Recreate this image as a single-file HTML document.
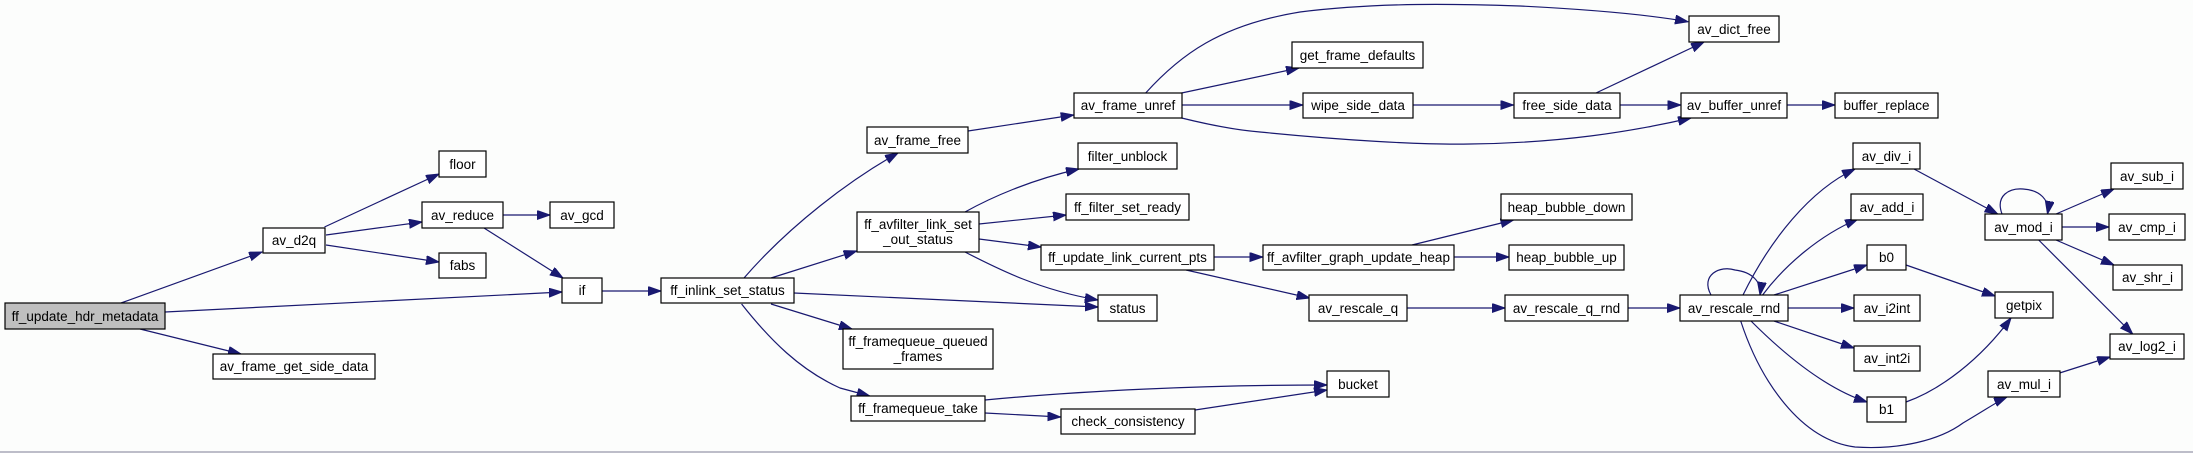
<!DOCTYPE html>
<html><head><meta charset="utf-8"><style>
html,body{margin:0;padding:0;background:#fcfdfc;}
svg{display:block;}
text{font-family:"Liberation Sans",sans-serif;font-size:13.5px;fill:#000;text-anchor:middle;}
rect{stroke:#000;stroke-width:1.2;fill:#fff;}
path{fill:none;stroke:#191970;stroke-width:1.2;}
</style></head><body>
<svg width="2193" height="453" viewBox="0 0 2193 453" xmlns="http://www.w3.org/2000/svg">
<defs>
<marker id="a" markerUnits="userSpaceOnUse" markerWidth="14" markerHeight="10" refX="13" refY="4.5" orient="auto">
<path d="M0,0 L13,4.5 L0,9 Z" style="fill:#191970;stroke:#191970;stroke-width:1"/>
</marker>
</defs>
<rect x="0" y="0" width="2193" height="453" style="fill:#fcfdfc;stroke:none"/>
<line x1="0" y1="452" x2="2193" y2="452" stroke="#a8a8b8" stroke-width="1.5"/>

<g marker-end="url(#a)">
<path d="M121,303 L262,252"/>
<path d="M165,312 L562,292"/>
<path d="M140,329 L241,354"/>
<path d="M324.5,227 L439,174"/>
<path d="M326,235 L422,222"/>
<path d="M326,245 L439,262"/>
<path d="M503,215 L550,215"/>
<path d="M484,228 L563,278"/>
<path d="M601.5,291 L661,291"/>
<path d="M744,278 C790,225 850,180 898,153"/>
<path d="M771,278 L856.6,251"/>
<path d="M794,293 L1098,307"/>
<path d="M771,304 L852,329"/>
<path d="M741.6,304 C770,340 800,370 840,388 L869.7,396"/>
<path d="M968,131 L1073.6,115"/>
<path d="M1145.7,93 C1180,55 1220,25 1300,12 C1380,2 1460,4 1520,6 C1600,10 1650,15 1688,21.7"/>
<path d="M1181.6,93 L1299,68"/>
<path d="M1181.6,105 L1302.6,105"/>
<path d="M1181.6,118 C1210,125 1235,130 1260,132 C1340,140 1420,145 1470,144 C1560,143 1630,132 1691,118"/>
<path d="M1413,105 L1513.5,105"/>
<path d="M965,212 C990,198 1030,180 1079,169"/>
<path d="M979,224 L1066,215"/>
<path d="M979,239 L1041,247"/>
<path d="M965,252 C1000,270 1040,290 1097.8,300"/>
<path d="M1214,257 L1262.6,257"/>
<path d="M1186,270 L1309.6,298"/>
<path d="M1412,245 L1513.5,220"/>
<path d="M1453.5,257 L1509,257"/>
<path d="M1406.5,308 L1505,308"/>
<path d="M985,400 C1080,391 1200,385 1327,385"/>
<path d="M985,413 L1060.5,417"/>
<path d="M1195,410 L1327,390"/>
<path d="M1596,93 L1704,42"/>
<path d="M1619.7,105 L1680.7,105"/>
<path d="M1787,105 L1835,105"/>
<path d="M1627.6,308 L1680,308"/>
<path d="M1711,295 C1700,275 1720,265 1735,270 C1752,272 1762,282 1760,295"/>
<path d="M1743,295 C1770,240 1810,190 1855,169"/>
<path d="M1762.6,295 C1785,265 1820,235 1858,219"/>
<path d="M1774,295 L1867,265"/>
<path d="M1787.7,308 L1854,308"/>
<path d="M1774,321 L1854,348"/>
<path d="M1751,321 C1790,360 1830,390 1867,402"/>
<path d="M1740.7,321 C1760,380 1800,440 1855,447 C1900,450 1940,440 1963,423 C1985,410 2000,400 2007,397"/>
<path d="M1914,169 L1997.7,214"/>
<path d="M2002,214 C1995,195 2010,188 2023,189 C2040,190 2050,200 2047.5,214"/>
<path d="M2056,214 L2114,189"/>
<path d="M2061.5,227 L2109,227"/>
<path d="M2056,240 L2114,265"/>
<path d="M2038.7,240 L2132.7,334"/>
<path d="M1906,265 L1995,296"/>
<path d="M1906,402 C1940,390 1980,360 2011,318"/>
<path d="M2059.6,373 L2110,357"/>
</g>

<rect x="5" y="303" width="160" height="26" style="fill:#bfbfbf"/><text x="85" y="321">ff_update_hdr_metadata</text>
<rect x="263" y="228" width="62" height="25"/><text x="294" y="245">av_d2q</text>
<rect x="439" y="151" width="47" height="26"/><text x="462.5" y="169">floor</text>
<rect x="422" y="202" width="81" height="26"/><text x="462.5" y="220">av_reduce</text>
<rect x="550" y="202" width="64" height="26"/><text x="582" y="220">av_gcd</text>
<rect x="439" y="253" width="47" height="25"/><text x="462.5" y="270">fabs</text>
<rect x="562" y="278" width="40" height="25"/><text x="582" y="295">if</text>
<rect x="661" y="278" width="133" height="25"/><text x="727.5" y="295">ff_inlink_set_status</text>
<rect x="213" y="354" width="162" height="25"/><text x="294" y="371">av_frame_get_side_data</text>
<rect x="867" y="127" width="101" height="26"/><text x="917.5" y="145">av_frame_free</text>
<rect x="1074" y="93" width="108" height="25"/><text x="1128" y="110">av_frame_unref</text>
<rect x="1292" y="42" width="131" height="26"/><text x="1357.5" y="60">get_frame_defaults</text>
<rect x="1303" y="93" width="110" height="25"/><text x="1358" y="110">wipe_side_data</text>
<rect x="1078" y="143" width="99" height="26"/><text x="1127.5" y="161">filter_unblock</text>
<rect x="1066" y="194" width="123" height="26"/><text x="1127.5" y="212">ff_filter_set_ready</text>
<rect x="857" y="212" width="122" height="40"/><text x="918" y="229">ff_avfilter_link_set</text><text x="918" y="244">_out_status</text>
<rect x="1041" y="245" width="173" height="25"/><text x="1127.5" y="262">ff_update_link_current_pts</text>
<rect x="1263" y="245" width="191" height="25"/><text x="1358.5" y="262">ff_avfilter_graph_update_heap</text>
<rect x="1098" y="295" width="59" height="26"/><text x="1127.5" y="313">status</text>
<rect x="1309" y="295" width="98" height="26"/><text x="1358" y="313">av_rescale_q</text>
<rect x="843" y="329" width="150" height="40"/><text x="918" y="346">ff_framequeue_queued</text><text x="918" y="361">_frames</text>
<rect x="1327" y="371" width="62" height="26"/><text x="1358" y="389">bucket</text>
<rect x="851" y="396" width="134" height="25"/><text x="918" y="413">ff_framequeue_take</text>
<rect x="1061" y="409" width="134" height="25"/><text x="1128" y="426">check_consistency</text>
<rect x="1689" y="16" width="90" height="26"/><text x="1734" y="34">av_dict_free</text>
<rect x="1514" y="93" width="106" height="25"/><text x="1567" y="110">free_side_data</text>
<rect x="1681" y="93" width="106" height="25"/><text x="1734" y="110">av_buffer_unref</text>
<rect x="1835" y="93" width="103" height="25"/><text x="1886.5" y="110">buffer_replace</text>
<rect x="1501" y="194" width="131" height="26"/><text x="1566.5" y="212">heap_bubble_down</text>
<rect x="1509" y="245" width="115" height="25"/><text x="1566.5" y="262">heap_bubble_up</text>
<rect x="1505" y="295" width="123" height="26"/><text x="1566.5" y="313">av_rescale_q_rnd</text>
<rect x="1680" y="295" width="108" height="26"/><text x="1734" y="313">av_rescale_rnd</text>
<rect x="1853" y="143" width="67" height="26"/><text x="1886.5" y="161">av_div_i</text>
<rect x="1851" y="194" width="72" height="26"/><text x="1887" y="212">av_add_i</text>
<rect x="1867" y="245" width="39" height="25"/><text x="1886.5" y="262">b0</text>
<rect x="1854" y="295" width="66" height="26"/><text x="1887" y="313">av_i2int</text>
<rect x="1854" y="346" width="66" height="25"/><text x="1887" y="363">av_int2i</text>
<rect x="1867" y="397" width="39" height="25"/><text x="1886.5" y="414">b1</text>
<rect x="1985" y="214" width="77" height="26"/><text x="2023.5" y="232">av_mod_i</text>
<rect x="1995" y="292" width="58" height="26"/><text x="2024" y="310">getpix</text>
<rect x="1988" y="371" width="72" height="26"/><text x="2024" y="389">av_mul_i</text>
<rect x="2111" y="163" width="72" height="26"/><text x="2147" y="181">av_sub_i</text>
<rect x="2109" y="214" width="76" height="26"/><text x="2147" y="232">av_cmp_i</text>
<rect x="2113" y="265" width="69" height="25"/><text x="2147.5" y="282">av_shr_i</text>
<rect x="2110" y="334" width="74" height="25"/><text x="2147" y="351">av_log2_i</text>
</svg>
</body></html>
